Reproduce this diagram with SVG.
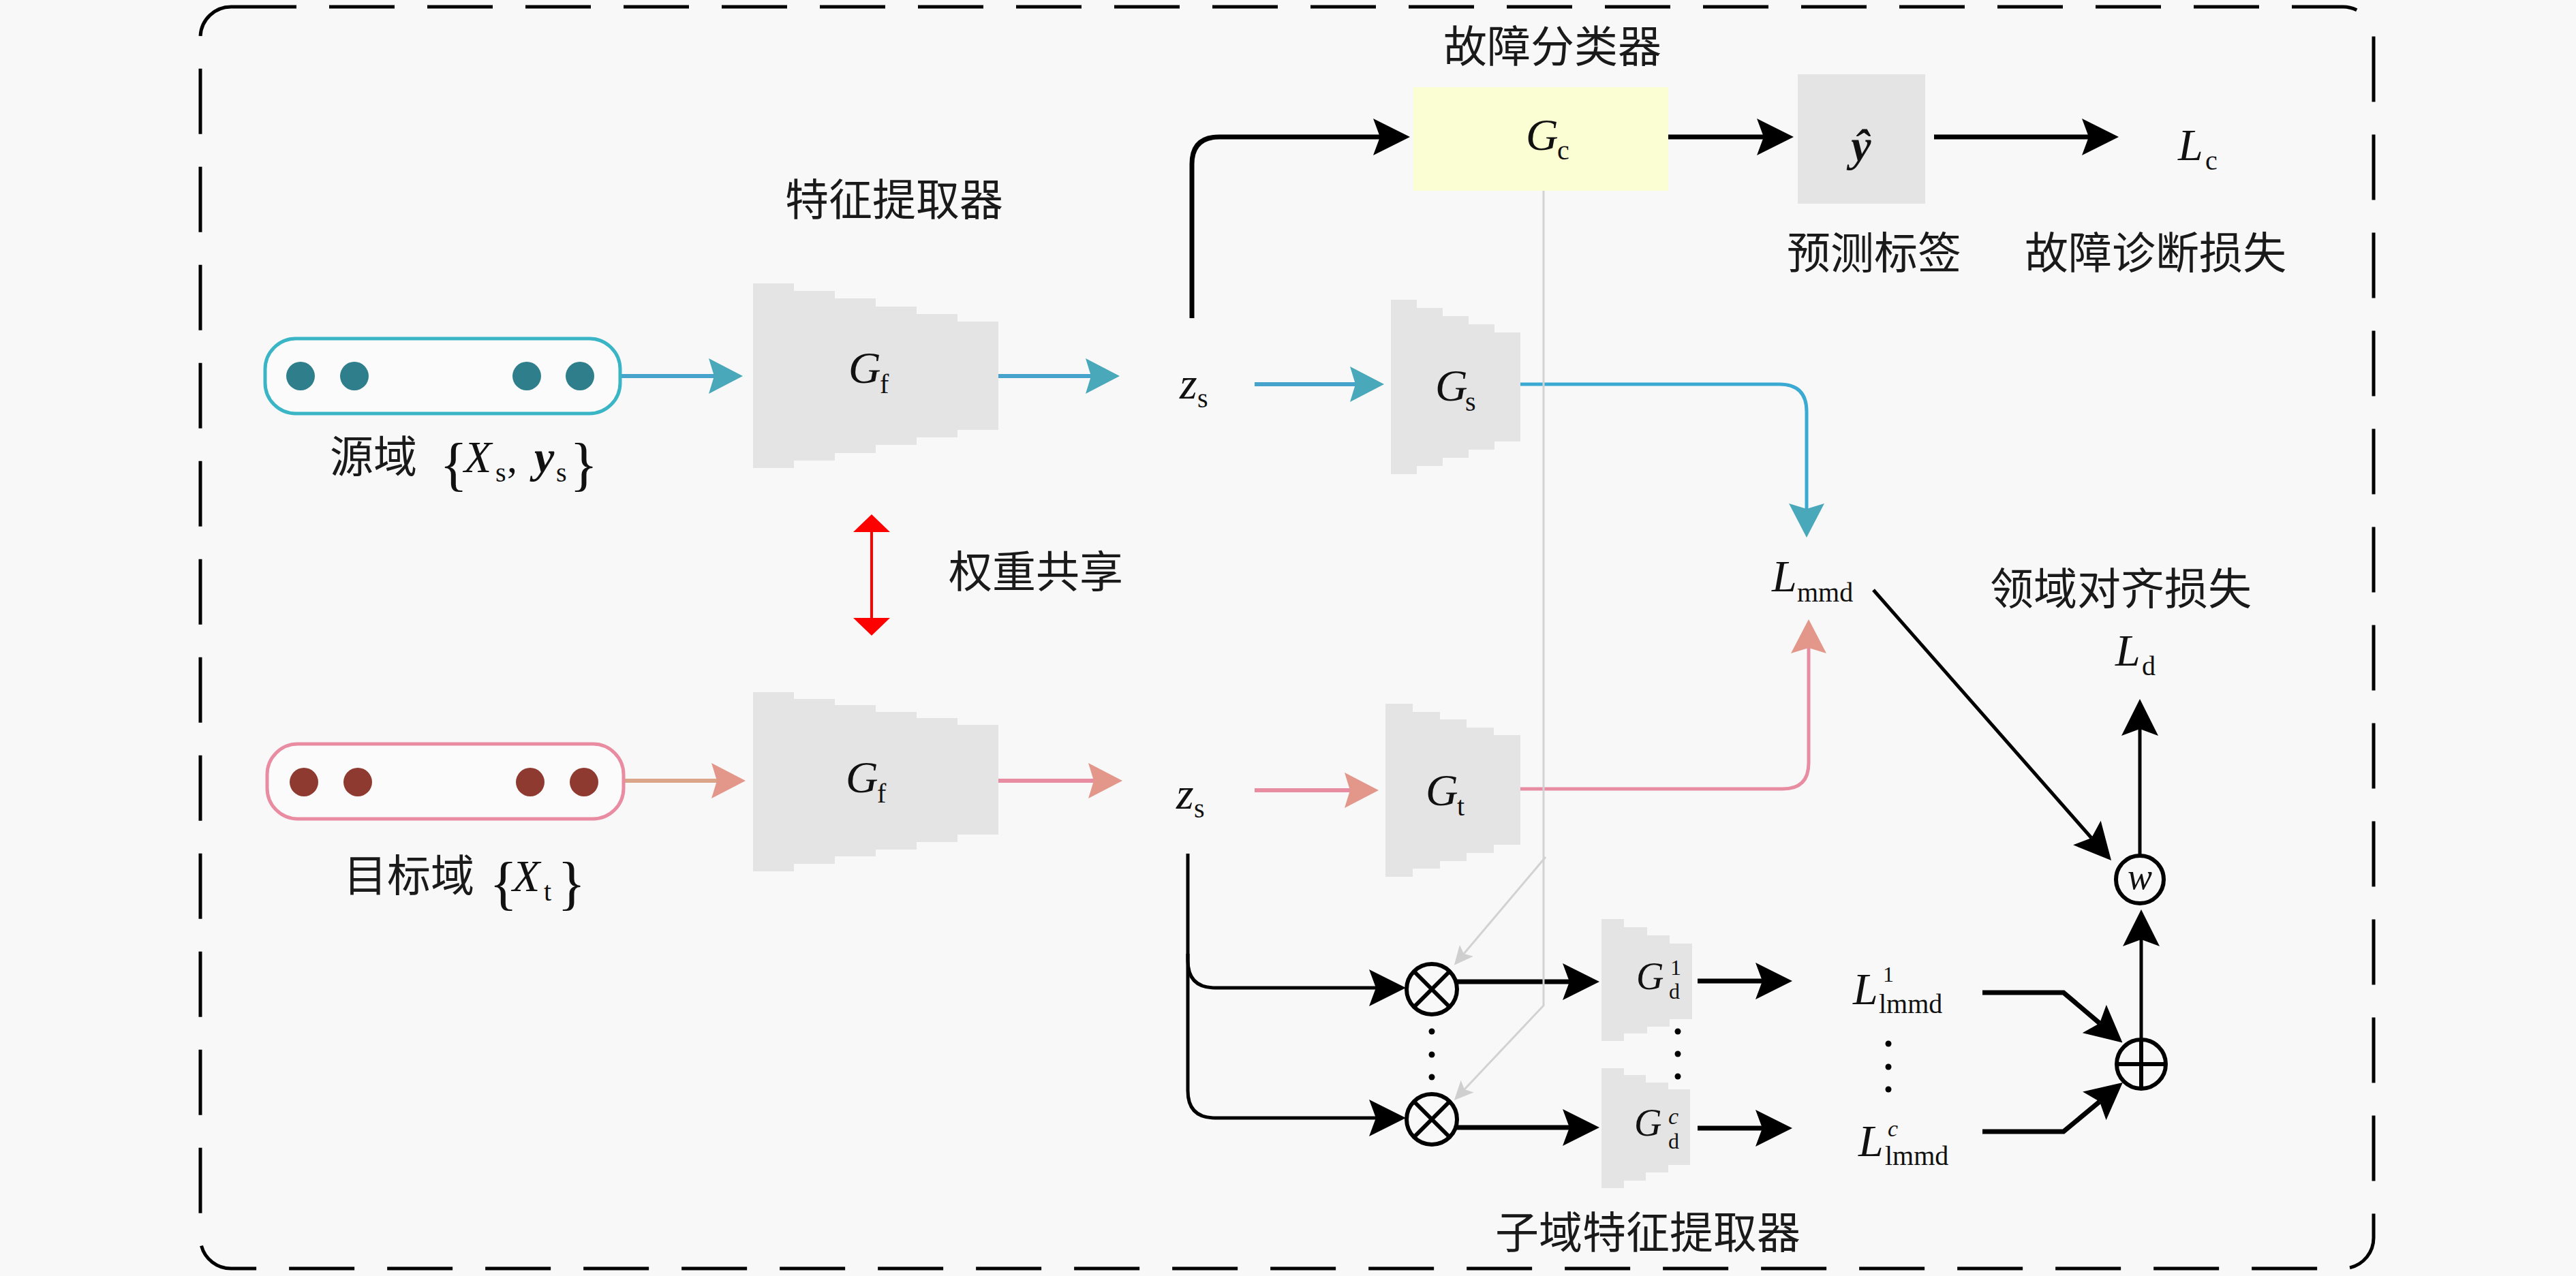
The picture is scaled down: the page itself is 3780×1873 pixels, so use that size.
<svg xmlns="http://www.w3.org/2000/svg" width="3780" height="1873" viewBox="0 0 3780 1873">
<defs>
<style>
.cjk{font-family:"Noto Sans CJK SC","Noto Sans",sans-serif;font-size:64px;fill:#1a1a1a;text-anchor:middle}
.m{font-family:"Liberation Serif","DejaVu Serif",serif;font-style:italic;font-size:66px;fill:#111}
.md{font-size:56px}
.sb{font-family:"Liberation Serif","DejaVu Serif",serif;font-style:normal;font-size:40px;fill:#111}
.br{font-family:"Liberation Serif","DejaVu Serif",serif;font-style:normal;font-size:86px;fill:#111}
.ss{font-family:"Liberation Serif","DejaVu Serif",serif;font-style:normal;font-size:32px;fill:#111}
.ssi{font-family:"Liberation Serif","DejaVu Serif",serif;font-style:italic;font-size:34px;fill:#111}
.bi{font-weight:bold;font-style:italic}
.blk{fill:none;stroke:#000;stroke-width:7;marker-end:url(#ah-black)}
.blk5{fill:none;stroke:#000;stroke-width:5;marker-end:url(#ah-black)}
.blue{fill:none;stroke:#45a3cc;stroke-width:6;marker-end:url(#ah-blue)}
.pink{fill:none;stroke:#e88ca2;stroke-width:6;marker-end:url(#ah-pink)}
.tan{fill:none;stroke:#dba58a;stroke-width:6;marker-end:url(#ah-pink)}
.gray{fill:none;stroke:#d2d2d2;stroke-width:3;marker-end:url(#ah-gray)}
.blockshape{fill:#e4e4e4}
.op{fill:none;stroke:#000;stroke-width:6}
.dot{fill:#000}
</style>
<marker id="ah-black" markerUnits="userSpaceOnUse" markerWidth="54" markerHeight="54" viewBox="0 0 54 54" refX="10" refY="27" orient="auto"><path d="M0,0 L54,27 L0,54 L10,27 z" fill="#000"/></marker>
<marker id="ah-blue" markerUnits="userSpaceOnUse" markerWidth="50" markerHeight="52" viewBox="0 0 50 52" refX="8" refY="26" orient="auto"><path d="M0,0 L50,26 L0,52 L8,26 z" fill="#4aa8bb"/></marker>
<marker id="ah-pink" markerUnits="userSpaceOnUse" markerWidth="50" markerHeight="52" viewBox="0 0 50 52" refX="8" refY="26" orient="auto"><path d="M0,0 L50,26 L0,52 L8,26 z" fill="#e3978a"/></marker>
<marker id="ah-gray" markerUnits="userSpaceOnUse" markerWidth="28" markerHeight="26" viewBox="0 0 28 26" refX="6" refY="13" orient="auto"><path d="M0,0 L28,13 L0,26 L6,13 z" fill="#cfcfcf"/></marker>
<marker id="ah-red" markerUnits="userSpaceOnUse" markerWidth="26" markerHeight="54" viewBox="0 0 26 54" refX="1" refY="27" orient="auto-start-reverse"><path d="M0,0 L26,27 L0,54 z" fill="#ff0000"/></marker>
</defs>

<rect x="0" y="0" width="3780" height="1873" fill="#f8f8f8"/>
<rect id="frame" x="294" y="10" width="3189" height="1852" rx="45" ry="45" fill="none" stroke="#000" stroke-width="5" stroke-dasharray="96 48"/>

<!-- connectors -->
<g id="connectors">
<path class="blue" d="M910,552 H1048"/>
<path class="blue" d="M1465,552 H1601"/>
<path class="blk" d="M1749,467 V241 Q1749,201 1789,201 H2025"/>
<path class="blue" d="M1841,564 H1989"/>
<path class="blue" style="stroke:#3aaad2;stroke-width:5" d="M2231,564 H2611 Q2651,564 2651,604 V747"/>
<path class="blk" d="M2448,201 H2588"/>
<path class="blk" d="M2838,201 H3065"/>
<path class="tan" d="M915,1146 H1052"/>
<path class="pink" d="M1463,1146 H1605"/>
<path class="pink" d="M1841,1160 H1981"/>
<path class="pink" style="stroke-width:5" d="M2231,1158 H2616 Q2654,1158 2654,1120 V951"/>
<path class="blk5" d="M2749,866 L3069,1230"/>
<path class="blk5" d="M3140,1256 V1070"/>
<path class="blk5" d="M3142,1526 V1379"/>
<path class="blk5" d="M1743,1253 V1410 Q1743,1450 1783,1450 H2019"/>
<path class="blk5" d="M1743,1400 V1601 Q1743,1641 1783,1641 H2019"/>
<path class="blk" d="M2138,1441 H2303"/>
<path class="blk" d="M2138,1655 H2303"/>
<path class="blk" d="M2491,1440 H2586"/>
<path class="blk" d="M2491,1656 H2586"/>
<path class="blk" d="M2909,1457 H3028 L3081,1502"/>
<path class="blk" d="M2909,1661 H3028 L3081,1617"/>
<path class="gray" d="M2265,236 V1476 L2149,1599"/>
<path class="gray" d="M2268,1258 L2148,1400"/>
<path fill="none" stroke="#ff0000" stroke-width="4" marker-start="url(#ah-red)" marker-end="url(#ah-red)" d="M1279,780 V908"/>
</g>

<!-- source domain -->
<g id="source-domain">
<rect x="389" y="497" width="521" height="110" rx="45" ry="45" fill="#fbfbfb" stroke="#39b5c5" stroke-width="5"/>
<circle cx="441" cy="552" r="21" fill="#2e7f8b"/>
<circle cx="520" cy="552" r="21" fill="#2e7f8b"/>
<circle cx="773" cy="552" r="21" fill="#2e7f8b"/>
<circle cx="851" cy="552" r="21" fill="#2e7f8b"/>
<text class="cjk" style="text-anchor:start" x="484" y="693">源域</text>
<text class="br" x="645" y="710">{</text>
<text class="m" x="681" y="693">X</text>
<text class="sb" x="727" y="707">s</text>
<text class="sb" style="font-size:60px" x="744" y="693">,</text>
<text class="m bi" x="784" y="693">y</text>
<text class="sb" x="816" y="707">s</text>
<text class="br" x="836" y="710">}</text>
</g>

<!-- target domain -->
<g id="target-domain">
<rect x="392" y="1092" width="523" height="110" rx="45" ry="45" fill="#fbfbfb" stroke="#e98ca2" stroke-width="5"/>
<circle cx="446" cy="1148" r="21" fill="#8f3a30"/>
<circle cx="525" cy="1148" r="21" fill="#8f3a30"/>
<circle cx="778" cy="1148" r="21" fill="#8f3a30"/>
<circle cx="857" cy="1148" r="21" fill="#8f3a30"/>
<text class="cjk" style="text-anchor:start" x="504" y="1308">目标域</text>
<text class="br" x="718" y="1325">{</text>
<text class="m" x="752" y="1308">X</text>
<text class="sb" x="798" y="1322">t</text>
<text class="br" x="818" y="1325">}</text>
</g>

<!-- feature extractor source -->
<g id="Gf-source">
<polygon class="blockshape" points="1105,416 1165,416 1165,427 1225,427 1225,438 1285,438 1285,450 1345,450 1345,461 1405,461 1405,472 1465,472 1465,631 1405,631 1405,642 1345,642 1345,653 1285,653 1285,665 1225,665 1225,676 1165,676 1165,687 1105,687"/>
<text class="m" x="1245" y="562">G</text>
<text class="sb" x="1291" y="577">f</text>
</g>
<text id="label-feature-extractor" class="cjk" x="1312" y="316">特征提取器</text>

<!-- feature extractor target -->
<g id="Gf-target">
<polygon class="blockshape" points="1105,1016 1165,1016 1165,1026 1225,1026 1225,1035 1285,1035 1285,1045 1345,1045 1345,1054 1405,1054 1405,1064 1465,1064 1465,1225 1405,1225 1405,1236 1345,1236 1345,1247 1285,1247 1285,1257 1225,1257 1225,1268 1165,1268 1165,1279 1105,1279"/>
<text class="m" x="1241" y="1163">G</text>
<text class="sb" x="1287" y="1178">f</text>
</g>

<!-- weight sharing -->
<g id="weight-sharing">
<text class="cjk" x="1520" y="862">权重共享</text>
</g>

<!-- z_s nodes -->
<g id="zs-source">
<text class="m" x="1731" y="585">z</text>
<text class="sb" x="1757" y="598">s</text>
</g>
<g id="zs-target">
<text class="m" x="1726" y="1187">z</text>
<text class="sb" x="1752" y="1200">s</text>
</g>

<!-- classifier -->
<g id="Gc">
<rect x="2074" y="128" width="374" height="152" fill="#fbfdd2"/>
<text class="m" x="2239" y="220">G</text>
<text class="sb" x="2285" y="234">c</text>
</g>
<text id="label-classifier" class="cjk" x="2278" y="91">故障分类器</text>

<g id="y-hat">
<rect x="2638" y="109" width="187" height="190" fill="#e4e4e4"/>
<text class="m bi" x="2731" y="236" style="text-anchor:middle">ŷ</text>
</g>
<text id="label-pred" class="cjk" x="2750" y="394">预测标签</text>

<g id="Lc">
<text class="m" x="3196" y="235">L</text>
<text class="sb" x="3236" y="249">c</text>
</g>
<text id="label-diag-loss" class="cjk" x="3163" y="394">故障诊断损失</text>

<!-- Gs -->
<g id="Gs">
<polygon class="blockshape" points="2041,440 2079,440 2079,452 2117,452 2117,464 2155,464 2155,476 2193,476 2193,488 2231,488 2231,648 2193,648 2193,660 2155,660 2155,672 2117,672 2117,684 2079,684 2079,696 2041,696"/>
<text class="m" x="2106" y="588">G</text>
<text class="sb" x="2150" y="603">s</text>
</g>

<!-- Gt -->
<g id="Gt">
<polygon class="blockshape" points="2033,1033 2073,1033 2073,1045 2113,1045 2113,1056 2152,1056 2152,1068 2192,1068 2192,1079 2231,1079 2231,1240 2192,1240 2192,1252 2152,1252 2152,1264 2113,1264 2113,1275 2073,1275 2073,1287 2033,1287"/>
<text class="m" x="2092" y="1182">G</text>
<text class="sb" x="2138" y="1197">t</text>
</g>

<!-- Lmmd -->
<g id="Lmmd">
<text class="m" x="2600" y="868">L</text>
<text class="sb" x="2637" y="883">mmd</text>
</g>

<text id="label-align-loss" class="cjk" x="3112" y="887">领域对齐损失</text>

<g id="Ld">
<text class="m" x="3104" y="977">L</text>
<text class="sb" x="3143" y="991">d</text>
</g>

<g id="w-node">
<circle class="op" cx="3140" cy="1291" r="35"/>
<text class="m" x="3140" y="1305" style="font-size:54px;text-anchor:middle">w</text>
</g>

<g id="sum-node">
<circle class="op" cx="3142" cy="1562" r="36"/>
<path class="op" d="M3106,1562 H3178 M3142,1526 V1598"/>
</g>

<!-- multipliers -->
<g id="mul-1">
<circle class="op" cx="2101" cy="1452" r="37"/>
<path class="op" d="M2075,1426 L2127,1478 M2127,1426 L2075,1478"/>
</g>
<g id="mul-c">
<circle class="op" cx="2101" cy="1643" r="37"/>
<path class="op" d="M2075,1617 L2127,1669 M2127,1617 L2075,1669"/>
</g>
<g id="mul-dots">
<circle class="dot" cx="2101" cy="1514" r="4.5"/>
<circle class="dot" cx="2101" cy="1548" r="4.5"/>
<circle class="dot" cx="2101" cy="1581" r="4.5"/>
</g>

<!-- sub-domain extractors -->
<g id="Gd-1">
<polygon class="blockshape" points="2350,1349 2383,1349 2383,1361 2417,1361 2417,1373 2450,1373 2450,1385 2483,1385 2483,1496 2450,1496 2450,1507 2417,1507 2417,1517 2383,1517 2383,1528 2350,1528"/>
<text class="m md" x="2401" y="1452">G</text>
<text class="ss" x="2451" y="1431">1</text>
<text class="ss" x="2449" y="1466">d</text>
</g>
<g id="Gd-c">
<polygon class="blockshape" points="2350,1568 2383,1568 2383,1578 2415,1578 2415,1589 2448,1589 2448,1599 2480,1599 2480,1710 2448,1710 2448,1721 2415,1721 2415,1733 2383,1733 2383,1744 2350,1744"/>
<text class="m md" x="2398" y="1667">G</text>
<text class="ssi" x="2448" y="1650">c</text>
<text class="ss" x="2448" y="1686">d</text>
</g>
<g id="Gd-dots">
<circle class="dot" cx="2462" cy="1514" r="4.5"/>
<circle class="dot" cx="2462" cy="1547" r="4.5"/>
<circle class="dot" cx="2462" cy="1580" r="4.5"/>
</g>
<text id="label-subdomain" class="cjk" x="2418" y="1832">子域特征提取器</text>

<g id="L-lmmd-1">
<text class="m" x="2719" y="1474">L</text>
<text class="ss" x="2763" y="1441">1</text>
<text class="sb" x="2757" y="1487">lmmd</text>
</g>
<g id="L-lmmd-c">
<text class="m" x="2727" y="1697">L</text>
<text class="ssi" x="2770" y="1668">c</text>
<text class="sb" x="2766" y="1710">lmmd</text>
</g>
<g id="L-dots">
<circle class="dot" cx="2771" cy="1532" r="4.5"/>
<circle class="dot" cx="2771" cy="1566" r="4.5"/>
<circle class="dot" cx="2771" cy="1599" r="4.5"/>
</g>
</svg>
